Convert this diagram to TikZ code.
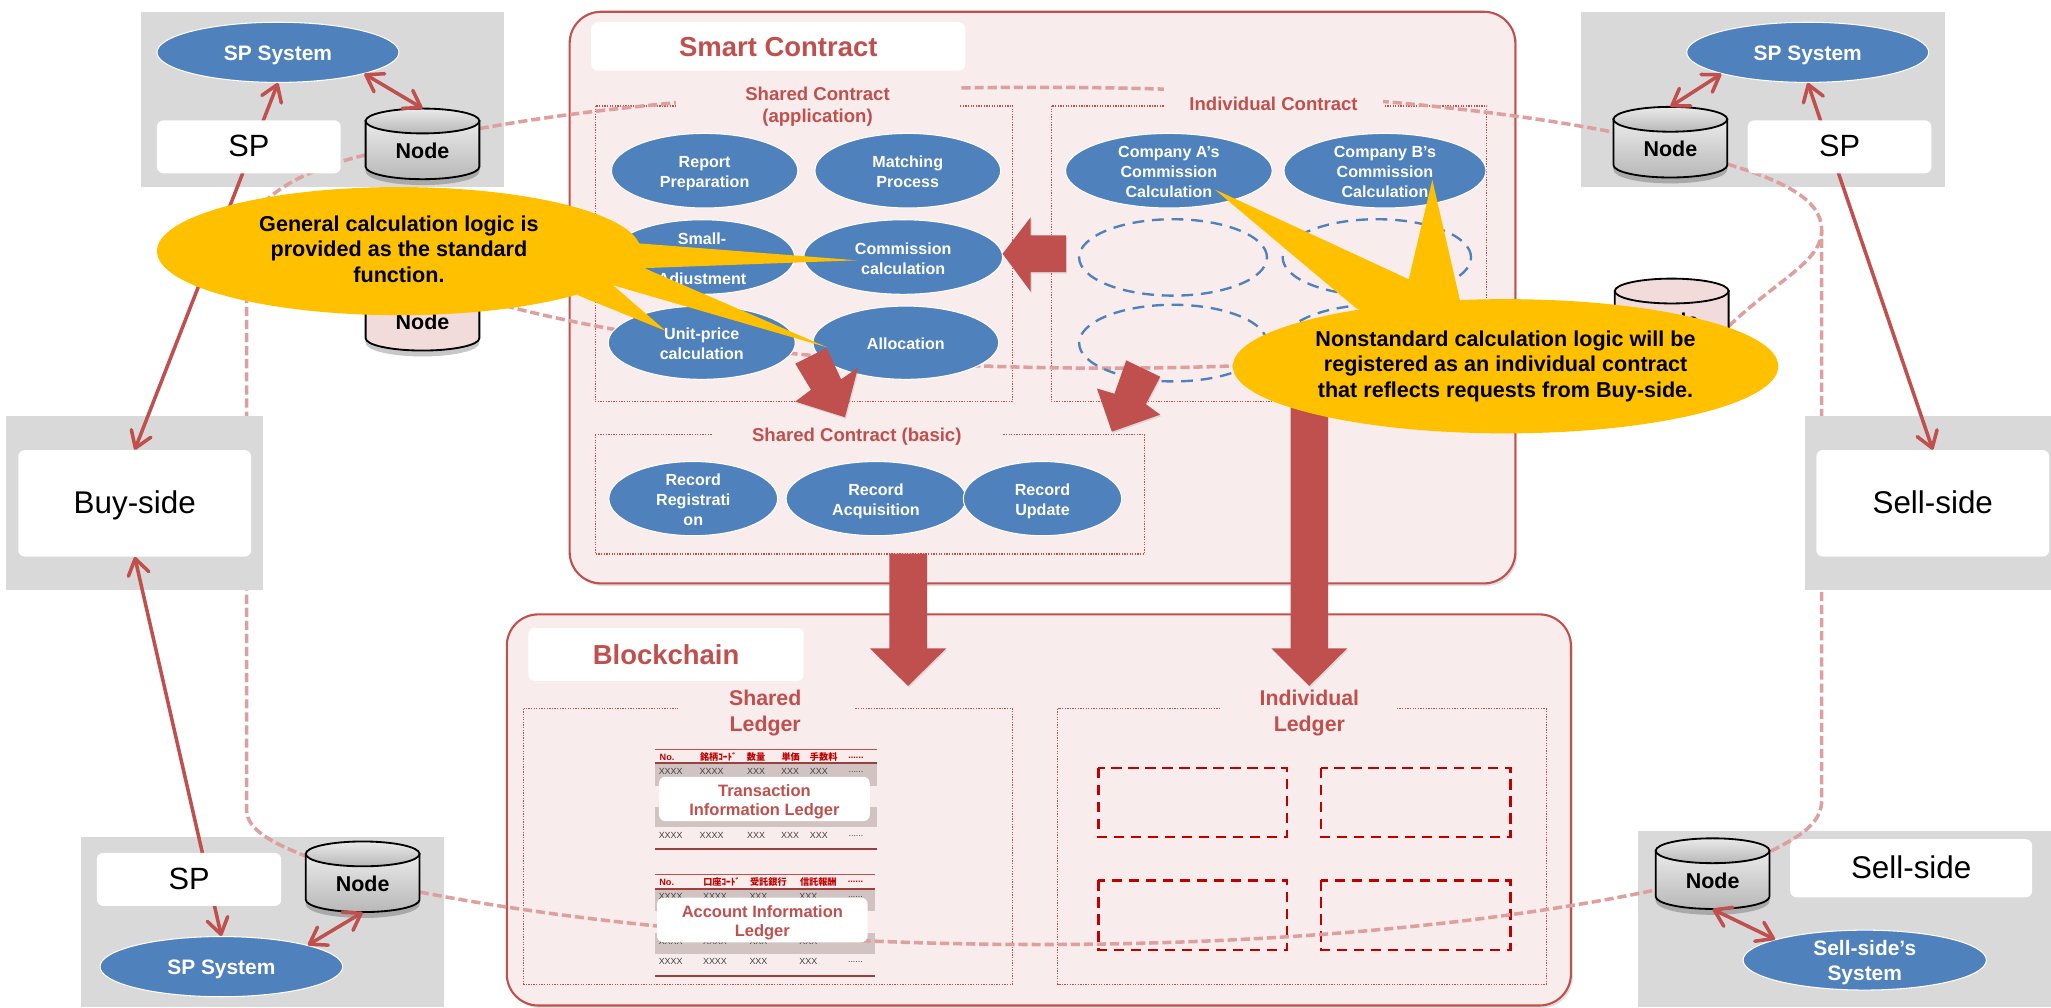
\documentclass[tikz,border=0pt]{standalone}
\usepackage{fontspec}
\setmainfont{Liberation Sans}
\newfontfamily\cjkfont{Noto Sans CJK JP}
\usetikzlibrary{arrows.meta,shapes.geometric,shadows}
\definecolor{brick}{HTML}{C0504D}
\definecolor{panelfill}{HTML}{F8ECEC}
\definecolor{greybox}{HTML}{D9D9D9}
\definecolor{ellblue}{HTML}{4F81BD}
\definecolor{ringc}{HTML}{DDA09E}
\definecolor{gold}{HTML}{FFC000}
\definecolor{pinkc}{HTML}{F2DCDB}
\definecolor{rowgrey}{HTML}{D2C3C3}
\definecolor{deepred}{HTML}{C00000}
\newcommand\ztc[1]{\smash{\raisebox{-.28em}{\makebox[0pt]{\begin{tabular}[c]{@{}c@{}}#1\end{tabular}}}}}
\newcommand\zt[1]{\smash{\raisebox{-2pt}{\ztc{#1}}}}
\newcommand\fs[2]{\fontsize{#1}{#2}\selectfont}
\tikzset{
 panel/.style={draw=brick,fill=panelfill,line width=1.6pt,rounded corners=24pt,inner sep=0,
   drop shadow={shadow xshift=1.5pt,shadow yshift=-2pt,opacity=.25}},
 whitebox/.style={fill=white,rounded corners=5pt,inner sep=0},
 ell/.style={ellipse,fill=ellblue,draw=white,line width=.8pt,inner sep=0,text=white,font=\bfseries\fs{12.3}{15.3}},
 emptyell/.style={ellipse,draw=ellblue,line width=1.8pt,dash pattern=on 9pt off 6pt,inner sep=0},
 dotbox/.style={draw=brick,line width=.9pt,dash pattern=on 1pt off 1pt},
 redbox/.style={draw=deepred,line width=2pt,dash pattern=on 8pt off 5pt},
 ring/.style={draw=ringc,line width=2.7pt,dash pattern=on 7pt off 3pt},
 gap/.style={fill=panelfill},
 toplabel/.style={text=brick,font=\bfseries\fs{14.2}{16.6},inner sep=0},
 ledgerlabel/.style={text=brick,font=\bfseries\fs{16.3}{20},inner sep=0},
 titlebox/.style={whitebox,text=brick,font=\bfseries\fs{21}{25}},
 link/.style={draw=brick,line width=2.7pt,{Straight Barb[length=12pt,width=16pt,round]}-{Straight Barb[length=12pt,width=16pt,round]}},
 blockarrow/.style={fill=brick,drop shadow={shadow xshift=.8pt,shadow yshift=-1.2pt,opacity=.2}},
 callout/.style={ellipse,fill=gold,inner sep=0,text=black,font=\bfseries\fs{16.5}{19.6}},
 tail/.style={fill=gold},
 cell/.style={inner sep=0,text=black!75,font=\fs{6.8}{8}},
 headcell/.style={inner sep=0,text=deepred,font=\bfseries\fs{7}{8}},
 ledgerbox/.style={whitebox,text=brick,font=\bfseries\fs{12.6}{15}},
 cylbox/.style={inner sep=0,minimum width=87pt,minimum height=54pt,font=\bfseries\fs{16.4}{18}},
}
% #1 name, #2 centre, #3 body shading options
\newcommand\cyl[3]{%
 \begin{scope}[shift={#2}]
  \fill[black,opacity=.22] (-43.5,-17) -- (-43.5,21) .. controls (-43.5,27) and (-24,31.5) .. (0,31.5) .. controls (24,31.5) and (43.5,27) .. (43.5,21) -- (43.5,-17) -- cycle;
  \path[#3,draw=black,line width=1.4pt] (-43.5,-17.5) -- (-43.5,17.5) .. controls (-43.5,22.8) and (-24,27) .. (0,27) .. controls (24,27) and (43.5,22.8) .. (43.5,17.5) -- (43.5,-17.5) -- cycle;
  \path[#3,draw=black,line width=1.4pt] (-43.5,-17.5) .. controls (-43.5,-22.8) and (-24,-27) .. (0,-27) .. controls (24,-27) and (43.5,-22.8) .. (43.5,-17.5) .. controls (43.5,-12.2) and (24,-8) .. (0,-8) .. controls (-24,-8) and (-43.5,-12.2) .. (-43.5,-17.5) -- cycle;
  \node[cylbox] (#1) at (0,0) {\smash{\raisebox{-11pt}{Node}}};
 \end{scope}}
\tikzset{cylgrey/.style={top color=white!92!black,bottom color=black!28},cylpink/.style={fill=pinkc}}
\begin{document}
\begin{tikzpicture}[x=1pt,y=-1pt]
\useasboundingbox (0,0) rectangle (1568,770);
\clip (0,0) rectangle (1568,770);
% corner grey panels
\fill[greybox] (108,8.8) rectangle (385.5,143);
\fill[greybox] (1209,8.8) rectangle (1486.6,143);
\fill[greybox] (62,640) rectangle (339.5,770);
\fill[greybox] (1252.6,635.3) rectangle (1568,770);
% big panels
\node[panel,minimum width=723pt,minimum height=437pt] (smart) at (797,227.5) {};
\node[panel,minimum width=813.5pt,minimum height=299pt] (chain) at (794.2,619.2) {};
% dotted boxes
\draw[dotbox] (455,81) rectangle (774,307);
\draw[dotbox] (803.6,81) rectangle (1136.6,307);
\draw[dotbox] (455,332) rectangle (875,423.5);
\draw[dotbox] (400.5,541.8) rectangle (774,752.5);
\draw[dotbox] (808.5,541.8) rectangle (1182,752.5);
% red dashed boxes
\draw[redbox] (839.6,587) rectangle (984,640);
\draw[redbox] (1010,587) rectangle (1154.6,640);
\draw[redbox] (839.6,673) rectangle (984,726.2);
\draw[redbox] (1010,673) rectangle (1154.6,726.2);
% ledger tables
\fill[rowgrey] (500.8,583.6) rectangle (670.7,600.7);
\fill[rowgrey] (500.8,616.7) rectangle (670.7,632.5);
\draw[brick,line width=.9pt] (500.8,572.9) -- (670.7,572.9);
\draw[brick!80!black,line width=1.4pt] (500.8,583.6) -- (670.7,583.6);
\draw[brick!80!black,line width=1.4pt] (500.8,648.8) -- (670.7,648.8);
\fill[rowgrey] (500.8,679.6) rectangle (669,696.5);
\fill[rowgrey] (500.8,713) rectangle (669,729.3);
\draw[brick,line width=.9pt] (500.8,668.4) -- (669,668.4);
\draw[brick!80!black,line width=1.4pt] (500.8,679.6) -- (669,679.6);
\draw[brick!80!black,line width=1.4pt] (500.8,746.1) -- (669,746.1);
\foreach \x/\t [count=\i] in {510/No.,549.2/{\cjkfont 銘柄ｺｰﾄﾞ},578/{\cjkfont 数量},604.5/{\cjkfont 単価},629.7/{\cjkfont 手数料},654.4/{......}}
  \node[headcell] (ha\i) at (\x,579) {\t};
\foreach \x/\t [count=\i] in {509.7/No.,551.7/{\cjkfont 口座ｺｰﾄﾞ},587.4/{\cjkfont 受託銀行},625.6/{\cjkfont 信託報酬},654/{......}}
  \node[headcell] (hb\i) at (\x,674.5) {\t};
\foreach \y [count=\r] in {590,639}
 \foreach \x/\t [count=\i] in {512.7/XXXX,544/XXXX,578/XXX,604/XXX,626/XXX,654.4/{......}}
  \node[cell] (ca\r\i) at (\x,\y) {\t};
\foreach \y [count=\r] in {685.5,720,735.4}
 \foreach \x/\t [count=\i] in {512.7/XXXX,546.6/XXXX,579.8/XXX,618/XXX,654/{......}}
  \node[cell] (cb\r\i) at (\x,\y) {\t};
\coordinate (ringL) at (188.5,185);
\coordinate (ringLb) at (188.5,619);
\coordinate (ringR) at (1392.7,175.8);
\coordinate (ringRb) at (1392.7,611.6);
% cylinder outlines named first, so the ring can refer to them
\path node[cylbox] (nTL) at (323,110) {} node[cylbox] (nTR) at (1277,108.7) {}
      node[cylbox] (nLL) at (323,241) {} node[cylbox] (nLR) at (1278,240) {}
      node[cylbox] (nBL) at (277.25,670.3) {} node[cylbox] (nBR) at (1309.3,667.9) {};
% ring of dashed links
\draw[ring] (nTL.15) .. controls (600,55.8) and (1000,55.8) .. (nTR.170);
\draw[ring] (nLL.16) .. controls (600,295) and (1000,295) .. (nLR.193);
\draw[ring] (nBL.-15) .. controls (600,735.7) and (1000,735.7) .. (nBR.196);
\draw[ring] (nTL.191) .. controls (240,128) and (188.5,148) .. (ringL) -- (ringLb) .. controls (188.5,635) and (210,645) .. (nBL.160);
\draw[ring] (nLL.170) .. controls (225,225) and (188.5,205) .. (ringL);
\draw[ring] (nTR.-21) .. controls (1362,138) and (1392.7,152) .. (ringR) -- (ringRb) .. controls (1392.7,630) and (1375,640) .. (nBR.21);
\draw[ring] (nLR.-12) .. controls (1360,213) and (1392.7,200) .. (ringR);
% side grey panels
\fill[greybox] (4.5,318) rectangle (201,451);
\fill[greybox] (1379.6,318) rectangle (1568,451);
% gaps and labels
\fill[gap] (517,57) rectangle (733,97);
\fill[gap] (890,60) rectangle (1057,90);
\fill[gap] (545,320) rectangle (766,345);
\fill[gap] (518.5,525) rectangle (652.5,565);
\fill[gap] (933.6,525) rectangle (1067.6,565);
\node[toplabel] (lapp) at (625,79.5) {\zt{Shared Contract\\(application)}};
\node[toplabel] (lind) at (973.6,79) {\zt{Individual Contract}};
\node[toplabel] (lbas) at (655,331.5) {\zt{Shared Contract (basic)}};
\node[ledgerlabel] (lsl) at (585,543) {\zt{Shared\\Ledger}};
\node[ledgerlabel] (lil) at (1001,543) {\zt{Individual\\Ledger}};
% titles
\node[titlebox,minimum width=286pt,minimum height=37pt] (tsmart) at (595,35.5) {\zt{Smart Contract}};
\node[titlebox,minimum width=210.5pt,minimum height=40.6pt] (tchain) at (509.2,500.3) {\zt{Blockchain}};
% ledger labels
\node[ledgerbox,minimum width=161.2pt,minimum height=33.9pt] (ltx) at (584.4,610.8) {\zt{Transaction\\Information Ledger}};
\node[ledgerbox,minimum width=161pt,minimum height=34.1pt] (lac) at (582.8,703.3) {\zt{Account Information\\Ledger}};
% ellipses
\node[ell,minimum width=185pt,minimum height=46pt,font=\bfseries\fs{16}{19}] (sTL) at (212.5,40) {\zt{SP System}};
\node[ell,minimum width=185pt,minimum height=46pt,font=\bfseries\fs{16}{19}] (sTR) at (1382,40) {\zt{SP System}};
\node[ell,minimum width=185.5pt,minimum height=46pt,font=\bfseries\fs{16}{19}] (sBL) at (169.25,739) {\zt{SP System}};
\node[ell,minimum width=186pt,minimum height=45.8pt,font=\bfseries\fs{16}{19}] (sBR) at (1425.6,734) {\zt{Sell-side's\\System}};
% buy and sell boxes
\node[whitebox,minimum width=178pt,minimum height=81.5pt,font=\fs{24}{28}] (buy) at (103,384.8) {\zt{Buy-side}};
\node[whitebox,minimum width=178pt,minimum height=81.5pt,font=\fs{24}{28}] (sell) at (1477.6,384.8) {\zt{Sell-side}};
% thin links
\draw[link] (sTL.south) -- (buy.north);
\draw[link] (sTR.south) -- (sell.north);
\draw[link] (buy.south) -- (sBL.north);
% SP boxes
\node[whitebox,minimum width=140.5pt,minimum height=40.5pt,font=\fs{23.5}{27}] (spTL) at (190.25,112.25) {\zt{SP}};
\node[whitebox,minimum width=140.5pt,minimum height=40.5pt,font=\fs{23.5}{27}] (spTR) at (1406.3,112.25) {\zt{SP}};
\node[whitebox,minimum width=141pt,minimum height=40.6pt,font=\fs{23.5}{27}] (spBL) at (144.5,672.3) {\zt{SP}};
\node[whitebox,minimum width=185pt,minimum height=44.4pt,font=\fs{24}{27}] (spBR) at (1461.1,663.8) {\zt{Sell-side}};
% cylinders
\cyl{cTL}{(323,110)}{cylgrey}
\cyl{cTR}{(1277,108.7)}{cylgrey}
\cyl{cBL}{(277.25,670.3)}{cylgrey}
\cyl{cBR}{(1309.3,667.9)}{cylgrey}
\cyl{cLL}{(323,241)}{cylpink}
\cyl{cLR}{(1278,240)}{cylpink}
% node-system links
\draw[link] (sTL.-14) -- (cTL.north);
\draw[link] (sTR.194) -- (cTR.north);
\draw[link] (cBL.south) -- (sBL.14);
\draw[link] (cBR.south) -- (sBR.167);
% shared contract ellipses
\node[ell,minimum width=142.5pt,minimum height=57pt] (e1) at (538.7,130.5) {\zt{Report\\Preparation}};
\node[ell,minimum width=142pt,minimum height=57pt] (e2) at (694,130.5) {\zt{Matching\\Process}};
\node[ell,minimum width=141.5pt,minimum height=57pt] (e3) at (536.7,196.5) {\zt{Small-\\\strut\\Adjustment}};
\node[ell,minimum width=152pt,minimum height=57pt] (e4) at (690.5,196.5) {\zt{Commission\\calculation}};
\node[ell,minimum width=143pt,minimum height=56pt] (e5) at (536.5,262) {\zt{Unit-price\\calculation}};
\node[ell,minimum width=142pt,minimum height=56pt] (e6) at (692.5,262) {\zt{Allocation}};
\node[ell,minimum width=158pt,minimum height=57pt] (e7) at (893.6,130.5) {\zt{Company A's\\Commission\\Calculation}};
\node[ell,minimum width=154.4pt,minimum height=57pt] (e8) at (1058.8,130.5) {\zt{Company B's\\Commission\\Calculation}};
\node[emptyell,minimum width=143.6pt,minimum height=58.4pt] (d1) at (896.8,196.8) {};
\node[emptyell,minimum width=144pt,minimum height=58.4pt] (d2) at (1052.6,196.8) {};
\node[emptyell,minimum width=143.6pt,minimum height=58.6pt] (d3) at (896.8,262.3) {};
\node[emptyell,minimum width=144pt,minimum height=58.6pt] (d4) at (1052.6,262.3) {};
\node[ell,minimum width=129pt,minimum height=56.7pt] (e9) at (530,381.2) {\zt{Record\\Registrati\\on}};
\node[ell,minimum width=137.5pt,minimum height=56.7pt] (e10) at (669.7,381.2) {\zt{Record\\Acquisition}};
\node[ell,minimum width=121pt,minimum height=56.7pt] (e11) at (797,381.2) {\zt{Record\\Update}};
% block arrows
\fill[blockarrow] (815,180) -- (788,180) -- (788,166) -- (766.5,194) -- (788,223) -- (788,208) -- (815,208) -- cycle;
\fill[blockarrow] (608,278) -- (632,266) -- (643,290) -- (656,281) -- (646,319) -- (608,307) -- (620,298) -- cycle;
\fill[blockarrow] (861,275.5) -- (887,288) -- (876,309) -- (887,317) -- (850,330) -- (838.6,297) -- (852,301) -- cycle;
\fill[blockarrow] (680,423.3) -- (708.5,423.3) -- (708.5,495.6) -- (723.5,495.6) -- (694.2,524.4) -- (665,495.6) -- (680,495.6) -- cycle;
\fill[blockarrow] (986.6,300) -- (1015.2,300) -- (1015.2,495.6) -- (1030,495.6) -- (1000.9,524.4) -- (972,495.6) -- (986.6,495.6) -- cycle;
% callouts
\fill[tail] (487.5,186) -- (655,199) -- (492.5,205) -- (632.5,265.6) -- (468.5,218) -- (509,253) -- (442.5,226) -- (400,190) -- cycle;
\node[callout,minimum width=370pt,minimum height=98pt] (cl) at (305,192) {\ztc{General calculation logic is\\provided as the standard\\function.}};
\fill[tail] (1036,235) -- (928.6,144.8) -- (1077,213.5) -- (1095,137.5) -- (1116,229) -- (1100,270) -- cycle;
\node[callout,minimum width=417pt,minimum height=102.6pt] (cr) at (1151,280) {\ztc{Nonstandard calculation logic will be\\registered as an individual contract\\that reflects requests from Buy-side.}};
\end{tikzpicture}
\end{document}
